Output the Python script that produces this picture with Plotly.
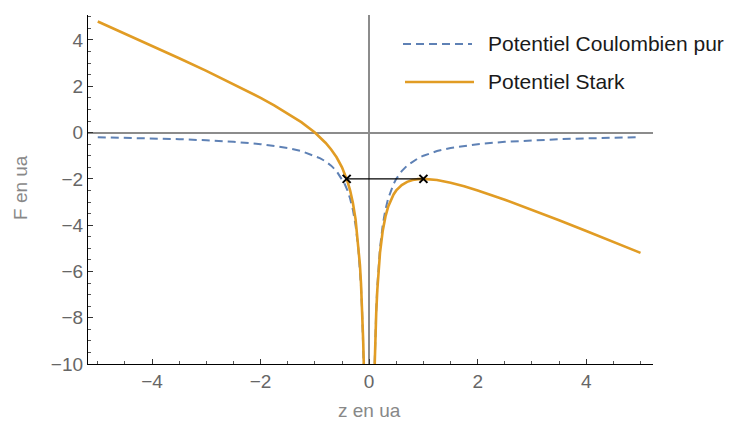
import plotly.graph_objects as go

# z values (left branch, then right branch)
z_left = [-5, -4.5, -4, -3.5, -3, -2.5, -2, -1.75, -1.5, -1.25, -1.0, -0.9, -0.8, -0.7,
          -0.6, -0.5, -0.45, -0.4, -0.35, -0.3, -0.25, -0.2, -0.17, -0.15, -0.13, -0.11, -0.1, -0.095]
z_right = [0.095, 0.1, 0.11, 0.13, 0.15, 0.17, 0.2, 0.25, 0.3, 0.35, 0.4, 0.45, 0.5, 0.6, 0.7,
           0.8, 0.9, 1.0, 1.25, 1.5, 1.75, 2, 2.5, 3, 3.5, 4, 4.5, 5]

# Pure Coulomb potential
coul_left = [-0.2, -0.222, -0.25, -0.286, -0.333, -0.4, -0.5, -0.571, -0.667, -0.8, -1.0, -1.111,
             -1.25, -1.429, -1.667, -2.0, -2.222, -2.5, -2.857, -3.333, -4.0, -5.0, -5.882,
             -6.667, -7.692, -9.091, -10.0, -10.53]
coul_right = [-10.53, -10.0, -9.091, -7.692, -6.667, -5.882, -5.0, -4.0, -3.333, -2.857, -2.5,
              -2.222, -2.0, -1.667, -1.429, -1.25, -1.111, -1.0, -0.8, -0.667, -0.571, -0.5,
              -0.4, -0.333, -0.286, -0.25, -0.222, -0.2]

# Stark potential
stark_left = [4.8, 4.278, 3.75, 3.214, 2.667, 2.1, 1.5, 1.179, 0.833, 0.45, 0.0, -0.211, -0.45,
              -0.729, -1.067, -1.5, -1.772, -2.1, -2.507, -3.033, -3.75, -4.8, -5.712, -6.517,
              -7.562, -8.981, -9.9, -10.43]
stark_right = [-10.62, -10.1, -9.201, -7.822, -6.817, -6.052, -5.2, -4.25, -3.633, -3.207, -2.9,
               -2.672, -2.5, -2.267, -2.129, -2.05, -2.011, -2.0, -2.05, -2.167, -2.321, -2.5,
               -2.9, -3.333, -3.786, -4.25, -4.722, -5.2]

# Tunnelling segment
seg_z = [-0.414, 1.0]
seg_v = [-2.0, -2.0]

legend_labels = ["Potentiel Coulombien pur", "Potentiel Stark"]
x_title = "z en ua"
y_title = "F en ua"

BLUE = "#5E81B5"
ORANGE = "#E19C24"
FONT = "Liberation Sans, Arial, sans-serif"
DASH = "8px,5px"

fig = go.Figure()
fig.add_trace(go.Scatter(x=z_left, y=coul_left, mode="lines",
                         line=dict(color=BLUE, width=2, dash=DASH), name=legend_labels[0]))
fig.add_trace(go.Scatter(x=z_right, y=coul_right, mode="lines",
                         line=dict(color=BLUE, width=2, dash=DASH), name=legend_labels[0]))
fig.add_trace(go.Scatter(x=z_left, y=stark_left, mode="lines",
                         line=dict(color=ORANGE, width=2.6), name=legend_labels[1]))
fig.add_trace(go.Scatter(x=z_right, y=stark_right, mode="lines",
                         line=dict(color=ORANGE, width=2.6), name=legend_labels[1]))
fig.add_trace(go.Scatter(x=seg_z, y=seg_v, mode="lines+markers",
                         line=dict(color="black", width=1.3),
                         marker=dict(symbol="x-thin", size=8, line=dict(color="black", width=2))))

axis_common = dict(
    showgrid=False, showline=True, linecolor="black", linewidth=1.3,
    ticks="inside", ticklen=5, tickcolor="#333", tickwidth=1,
    tickfont=dict(family=FONT, size=19, color="#666"),
    zeroline=True, zerolinecolor="#8c8c8c", zerolinewidth=1.5,
    minor=dict(ticks="inside", ticklen=3, tickcolor="#555", dtick=0.5, showgrid=False),
    mirror=False, automargin=False,
)

# plot area in pixels: left 88, right 653, top 15, bottom 364
L, R, T, B = 88, 653, 15, 364
W, H = 741, 423


def px(x):
    return (x - L) / (R - L)


def py(y):
    return (B - y) / (B - T)


shapes = [
    dict(type="line", xref="paper", yref="paper", x0=px(403), x1=px(472), y0=py(44), y1=py(44),
         line=dict(color=BLUE, width=2, dash=DASH)),
    dict(type="line", xref="paper", yref="paper", x0=px(405), x1=px(474), y0=py(82), y1=py(82),
         line=dict(color=ORANGE, width=2.6)),
]
annotations = [
    dict(text=legend_labels[0], xref="paper", yref="paper", x=px(486), y=py(44), xanchor="left",
         yanchor="middle", showarrow=False, font=dict(family=FONT, size=21, color="#1a1a1a")),
    dict(text=legend_labels[1], xref="paper", yref="paper", x=px(486), y=py(82), xanchor="left",
         yanchor="middle", showarrow=False, font=dict(family=FONT, size=21, color="#1a1a1a")),
    dict(text=x_title, xref="paper", yref="paper", x=px(369), y=py(410), xanchor="center",
         yanchor="middle", showarrow=False, font=dict(family=FONT, size=19, color="#888")),
    dict(text=y_title, xref="paper", yref="paper", x=px(20), y=py(188), xanchor="center",
         yanchor="middle", textangle=-90, showarrow=False,
         font=dict(family=FONT, size=19, color="#888")),
]

fig.update_layout(
    width=W, height=H,
    margin=dict(l=L, r=W - R, t=T, b=H - B),
    plot_bgcolor="white", paper_bgcolor="white",
    xaxis=dict(range=[-5.18, 5.23], dtick=2, tick0=0, **axis_common),
    yaxis=dict(range=[-10, 5.08], dtick=2, tick0=0, **axis_common),
    showlegend=False,
    shapes=shapes,
    annotations=annotations,
)

fig.write_html("out.html", config={"displayModeBar": False},
               post_script="document.body.style.margin='0';document.body.style.overflow='hidden';")
